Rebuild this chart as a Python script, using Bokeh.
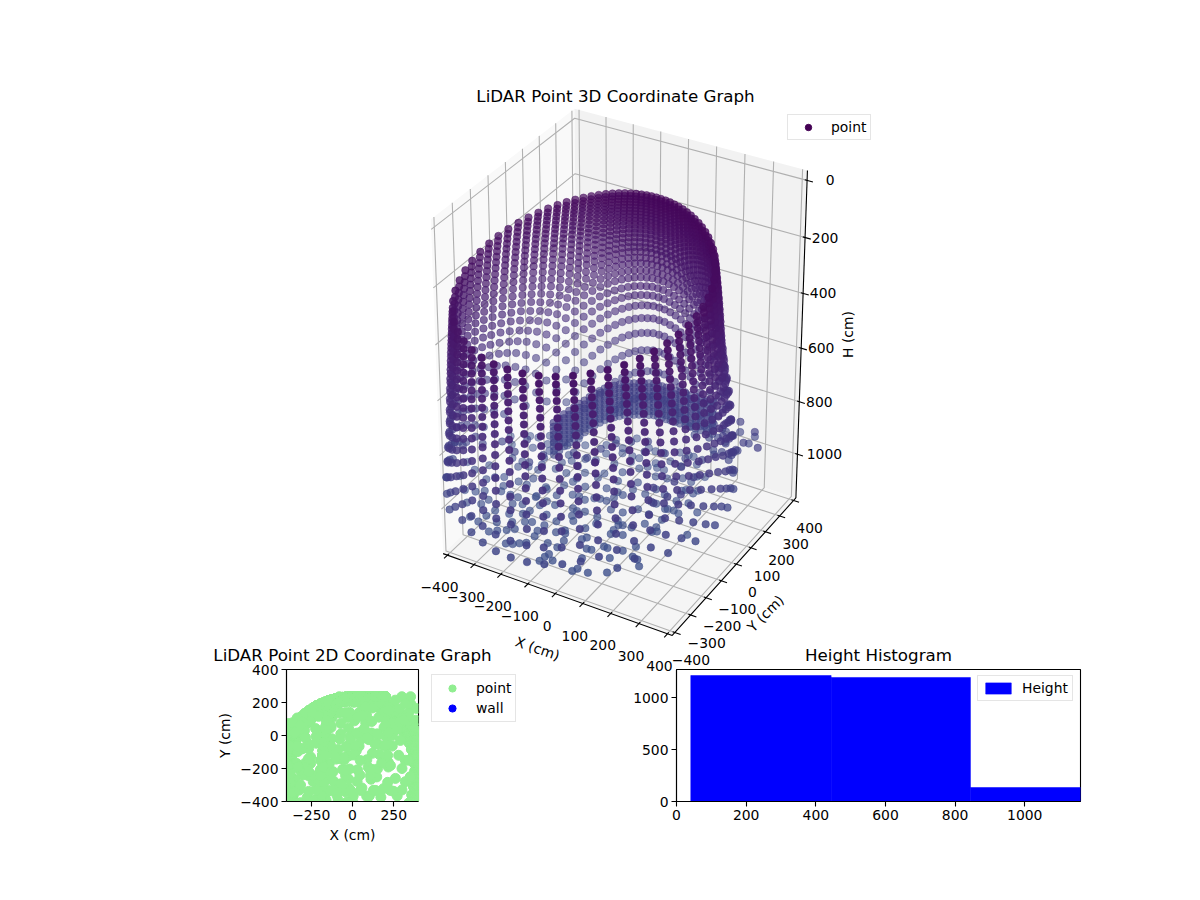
import numpy as np
from bokeh.plotting import figure
from bokeh.layouts import column, row
from bokeh.models import Range1d, Legend, LegendItem, ColumnDataSource, FixedTicker
from bokeh.core.properties import value
from bokeh.embed import file_html
from bokeh.resources import INLINE
from bokeh.palettes import Viridis256

# ---- readings ----
azimuth_deg = [0,5,10,15,20,25,30,35,40,45,50,55,60,65,70,75,80,85,90,95,100,105,110,115,120,125,130,135,140,145,150,155,160,165,170,175,
               180,185,190,195,200,205,210,215,220,225,230,235,240,245,250,255,260,265,270,275,280,285,290,295,300,305,310,315,320,325,330,335,340,345,350,355]
wall_range_cm = [401,382,364,347,331,317,304,292,282,272,264,257,251,246,242,239,237,235,235,235,237,239,242,246,251,257,264,272,282,292,304,317,331,347,364,382,
                 401,421,442,464,485,507,529,550,571,591,609,626,641,654,665,674,680,684,685,684,680,674,665,654,641,626,609,591,571,550,529,507,485,464,442,421]
elevation_deg = [18,20,22,24,26,28,30,32,34,36,38,40,42,44,46,48,50,52,54,56,58,60,62,64,66,68,70,72,74,76,78,80,82,84,86,88]
wall_flare_x = [.82,.825,.83,.835,.84,.845,.85,.855,.86,.865,.87,.875,.88,.885,.89,.90,.91,.92,.93,.95,.97,.98,.99,1,1,1,1,1,1,1,1,1,1,1,1,1]
wall_flare_y = [.95,.95,.95,.95,.95,.95,.95,.95,.95,.95,.95,.95,.95,.95,.95,.95,.96,.96,.97,.97,.98,.98,.99,1,1,1,1,1,1,1,1,1,1,1,1,1]
wall_center_y = -225
wall_bottom_cm = 900

floor_x = [106,114,152,202,271,249,99,172,-7,-4,0,27,4,4,-33,86,102,57,188,213,-144,-124,-108,-91,-87,-94,-21,28,45,112,147,121,217,217,213,241,221,163,120,87,
           -18,-60,-24,-114,-91,-153,-181,-203,-223,-280,-316,-275,-266,-228,-179,-160,-187,-218,-238,-209,-194,-159,-151,-118,-141,-99,-76,-51,-29,-12,
           11,23,40,53,99,116,154,191,229,235,203,155,-23,-87,-135,-186,-254,-254,-286,-270,-305,-352,-375,-409,-366,-323,-382,-364,-339,-465,-487,-443,-416,
           -331,-302,-266,-220,-178,-127,-71,-24,12,43,80,117,160,193,196,218,
           -445,-416,-373,-390,-362,-335,-291,-199,-166,-123,-92,-78,-17,9,36,79,82,114,132,-80,-19,-147,-135,-206,-244,-256,-303,-316,-347,-335,-271,-221,-166,-130,-71,-30,31,85,122,162,
           -77,-12,47,-149,137,47,30,-69,-40,-171,127,95,151,177,193,242,
           -285,-133,18,200,-194,-315,-42,109,-133,48,230,
           -224,-42,60,-133,200,290,320,-194,-315,-42,109,230,-12,140,-242]
floor_y = [-488,-470,-472,-442,-366,-338,-418,-374,-494,-468,-450,-473,-407,-368,-403,-368,-366,-318,-322,-284,-470,-462,-448,-435,-393,-364,-320,-278,-240,-265,-251,-206,-191,-163,-120,-64,-58,-115,-108,-147,
           -203,-206,-264,-277,-328,-343,-310,-426,-443,-415,-407,-376,-339,-389,-409,-392,-364,-332,-280,-267,-207,-244,-215,-219,-171,-143,-141,-148,-126,-119,
           -118,-92,-65,-23,-25,15,4,49,54,75,-8,-53,-59,-85,-81,-158,-130,-169,-167,-242,-241,-265,-283,-293,-347,-331,-208,-185,-169,-235,-157,-182,-137,
           -97,-80,-80,-47,-50,-19,9,44,89,142,77,85,111,107,143,153,
           39,0,-65,72,78,106,30,18,49,109,163,137,140,201,206,175,234,235,235,235,207,152,194,116,138,86,81,61,19,-65,-49,-7,3,48,73,109,111,122,167,202,
           -22,-6,19,-112,-52,-152,-208,-292,-342,-285,-332,-192,-203,-165,-64,0,
           -12,-60,-60,-60,-212,-212,-242,-242,-333,-333,-333,
           42,139,121,60,60,-30,-150,-150,-300,-212,-212,-182,-333,-333,-242]
floor_h_cm = 1000

mid_x = [-426,-458,-418,-377,-330,-267,-265,-195,-178,-101,-50,-38,-12,25,71,90,150,219,269,287,284,341,353,352,299,259]
mid_y = [-271,-268,-209,-231,-190,-141,-219,-245,-189,-130,-134,-69,-19,14,41,-14,10,18,37,82,161,138,191,235,235,214]
mid_h_cm = 850

side_x = [387,321,338,384,436,382,311,280,300,320,260,340,300,350]
side_y = [164,192,111,93,90,46,94,-120,-200,-280,-260,-150,-330,-250]
side_h_cm = 780

band_x = [-180,-178,-177,-173,-170,-165,-161,-157,-154,-147,-141,-131,-122,-111,-101,-87,-74,-60,-47,-32,-17,-2,13,29,45,62,80,100,119,138,156,178,199]
band_y = [-121,-92,-63,-37,-12,13,38,63,89,110,131,146,161,175,189,197,205,214,222,229,235,235,235,235,235,235,235,235,235,235,235,235,235]
band_h_cm = [770,785,800,815,830,845,860,875,890]

hist_edges = [41, 444, 844, 1245]
hist_counts = [1215, 1196, 135]

h_ticks = [0, 200, 400, 600, 800, 1000]
xy_ticks = [-400, -300, -200, -100, 0, 100, 200, 300, 400]

# ---- polar wall readings to x, y, h ----
az = np.radians(np.array(azimuth_deg, float))
dist = np.array(wall_range_cm, float)
tanphi = np.tan(np.radians(np.array(elevation_deg, float)))
D, T = np.meshgrid(dist, tanphi)
A, _ = np.meshgrid(az, tanphi)
Fx = np.array(wall_flare_x)[:, None]
Fy = np.array(wall_flare_y)[:, None]
wall_h = D * T
keep = wall_h <= wall_bottom_cm
wx = (Fx * D * np.cos(A))[keep]
wy = (wall_center_y + Fy * (D * np.sin(A) - wall_center_y))[keep]
wh = wall_h[keep]
bx = np.repeat(band_x, len(band_h_cm)).astype(float)
by = np.repeat(band_y, len(band_h_cm)).astype(float)
bh = np.tile(band_h_cm, len(band_x)).astype(float)
X = np.concatenate([wx, floor_x, mid_x, side_x, bx])
Y = np.concatenate([wy, floor_y, mid_y, side_y, by])
H = np.concatenate([wh, np.full(len(floor_x), float(floor_h_cm)), np.full(len(mid_x), float(mid_h_cm)),
                    np.full(len(side_x), float(side_h_cm)), bh])

# ---- 3D projection (elev 30, azim -60) ----
xlo, xhi = -416.67, 416.67
hbot, htop = 1170.0, -34.0
box = np.array([1, 1, 1.33]) / np.linalg.norm([1, 1, 1.33]) * 1.8294640721620434 * 25 / 24
el, azi = np.radians(30), np.radians(-60)
wv = np.array([np.cos(el) * np.cos(azi), np.cos(el) * np.sin(azi), np.sin(el)])
eye = box / 2 + 10 * wv
uv = np.cross([0, 0, 1.0], wv); uv /= np.linalg.norm(uv)
vv = np.cross(wv, uv)

def proj(x, y, h):
    x = np.asarray(x, float); y = np.asarray(y, float); h = np.asarray(h, float)
    P = np.stack([(x - xlo) / (xhi - xlo) * box[0],
                  (y - xlo) / (xhi - xlo) * box[1],
                  (h - hbot) / (htop - hbot) * box[2]], axis=-1) - eye
    zv = P @ wv
    return (P @ uv) / (-zv), (P @ vv) / (-zv), -zv

corners = [(xlo, xlo, hbot, 444, 552), (xhi, xlo, hbot, 670, 630), (xhi, xhi, hbot, 797, 503), (xlo, xhi, hbot, 575, 432),
           (xlo, xlo, htop, 432, 213), (xlo, xhi, htop, 572, 112), (xhi, xhi, htop, 808, 167)]
cx, cy, _ = proj([c[0] for c in corners], [c[1] for c in corners], [c[2] for c in corners])
sx, ox = np.polyfit(cx, [c[3] for c in corners], 1)
sy, oy = np.polyfit(cy, [c[4] for c in corners], 1)

FONT = value("DejaVu Sans")
TOP_H = 676
p = figure(width=1184, height=TOP_H, output_backend="svg", toolbar_location=None, min_border=0,
           x_range=Range1d((0 - ox) / sx, (1184 - ox) / sx),
           y_range=Range1d((TOP_H - oy) / sy, (0 - oy) / sy),
           background_fill_alpha=0, border_fill_alpha=0, outline_line_color=None)
p.axis.visible = False
p.grid.visible = False

def poly(pts, color):
    a = np.array(pts, float)
    u, v, _ = proj(a[:, 0], a[:, 1], a[:, 2])
    p.patch(u.tolist(), v.tolist(), fill_color=color, line_color=None)

poly([(xlo, xlo, hbot), (xlo, xhi, hbot), (xlo, xhi, htop), (xlo, xlo, htop)], "#f9f9f9")
poly([(xlo, xhi, hbot), (xhi, xhi, hbot), (xhi, xhi, htop), (xlo, xhi, htop)], "#f2f2f2")
poly([(xlo, xlo, hbot), (xhi, xlo, hbot), (xhi, xhi, hbot), (xlo, xhi, hbot)], "#f5f5f5")

def line3(pts, color="#b0b0b0", width=1.1):
    a = np.array(pts, float)
    u, v, _ = proj(a[:, 0], a[:, 1], a[:, 2])
    p.line(u.tolist(), v.tolist(), line_color=color, line_width=width)

for t in xy_ticks:
    line3([(t, xlo, hbot), (t, xhi, hbot), (t, xhi, htop)])
    line3([(xhi, t, hbot), (xlo, t, hbot), (xlo, t, htop)])
for t in h_ticks:
    line3([(xlo, xlo, t), (xlo, xhi, t), (xhi, xhi, t)])

line3([(xlo, xlo, hbot), (xhi, xlo, hbot), (xhi, xhi, hbot)], "#000000")
line3([(xhi, xhi, hbot), (xhi, xhi, htop)], "#000000")

def label(x3, y3, h3, text, dx, dy, align="center", angle=0.0, size="13.9px"):
    u, v, _ = proj(x3, y3, h3)
    p.text([float(u)], [float(v)], text=[text], x_offset=dx, y_offset=dy, text_align=align, text_baseline="middle",
           text_font=FONT, text_font_size=size, text_color="#000000", angle=angle)

def fmt(t):
    return str(t).replace("-", "\u2212")

for t in xy_ticks:
    line3([(t, xlo + 8, hbot), (t, xlo - 20, hbot)], "#000000")
    line3([(xhi - 8, t, hbot), (xhi + 20, t, hbot)], "#000000")
    label(t, xlo, hbot, fmt(t), -8, 32)
    label(xhi, t, hbot, fmt(t), 16, 28)
for t in h_ticks:
    line3([(xhi - 8, xhi, t), (xhi + 20, xhi, t)], "#000000")
    label(xhi, xhi, t, fmt(t), 27 if t == 1000 else (23 if t == 0 else 20), 0)

def page_text(px, py, text, angle=0.0, size="13.9px", align="center"):
    p.text([(px - ox) / sx], [(py - oy) / sy], text=[text], text_align=align, text_baseline="middle",
           text_font=FONT, text_font_size=size, angle=angle, text_color="#000000")

page_text(537, 648, "X (cm)", angle=np.radians(-19))
page_text(765, 613, "Y (cm)", angle=np.radians(45))
page_text(847, 334, "H (cm)", angle=np.radians(90))
page_text(615, 95, "LiDAR Point 3D Coordinate Graph", size="16.7px")

u, v, depth = proj(X, Y, H)
order = np.argsort(-depth)
near, far = depth.min(), depth.max()
alpha = 1 - (depth - near) / (far - near) * 0.5
tone = np.clip(H / 1245.0 * 0.30, 0, 1)
colors = [Viridis256[int(t * 255)] for t in tone]
src = ColumnDataSource(dict(u=u[order], v=v[order], c=[colors[i] for i in order], a=alpha[order]))
p.scatter("u", "v", source=src, size=7.5, fill_color="c", fill_alpha="a", line_color="c", line_alpha="a", line_width=0.6)

dummy = p.scatter([-999.0], [-999.0], size=7, color="#440154")
leg = Legend(items=[LegendItem(label="point", renderers=[dummy])], location=(787, TOP_H - 140),
             label_text_font_size="13.9px", label_text_font="DejaVu Sans", label_text_color="#000000", border_line_color="#cccccc",
             background_fill_alpha=0.8, padding=4, margin=0, spacing=0, glyph_width=32, glyph_height=16, label_standoff=7)
p.add_layout(leg)

def style_small(f):
    f.grid.visible = False
    f.outline_line_color = "#000000"
    f.outline_line_width = 1.1
    for ax in f.axis:
        ax.major_label_text_font = "DejaVu Sans"
        ax.major_label_text_font_size = "13.9px"
        ax.major_label_text_color = "#000000"
        ax.axis_label_text_font = "DejaVu Sans"
        ax.axis_label_text_font_size = "13.9px"
        ax.axis_label_text_font_style = "normal"
        ax.axis_label_text_color = "#000000"
        ax.major_tick_in = 0
        ax.major_tick_out = 5
        ax.minor_tick_line_color = None
        ax.major_tick_line_width = 1.1
        ax.major_tick_line_color = "#000000"
        ax.axis_line_width = 1.1
        ax.axis_line_color = "#000000"
        ax.major_label_standoff = 3
        ax.axis_label_standoff = 4
    f.title.text_font = "DejaVu Sans"
    f.title.text_font_size = "16.7px"
    f.title.text_font_style = "normal"
    f.title.text_color = "#000000"
    f.title.align = "center"

p2 = figure(width=330, height=221, frame_width=132, frame_height=132, output_backend="svg", toolbar_location=None,
            x_range=Range1d(-400, 400), y_range=Range1d(-400, 400), min_border_left=86, min_border_right=112,
            min_border_top=30, min_border_bottom=59, background_fill_alpha=0, border_fill_alpha=0,
            title="LiDAR Point 2D Coordinate Graph", margin=(0, 0, 0, 200),
            x_axis_label="X (cm)", y_axis_label="Y (cm)")
s_pt = p2.scatter(X.tolist(), Y.tolist(), size=10, color="#90ee90")
s_wall = p2.scatter([-9999.0], [-9999.0], size=10, color="#0000ff")
p2.xaxis.ticker = FixedTicker(ticks=[-250, 0, 250])
p2.yaxis.ticker = FixedTicker(ticks=[-400, -200, 0, 200, 400])
style_small(p2)
p2.add_layout(Legend(items=[LegendItem(label="point", renderers=[s_pt]), LegendItem(label="wall", renderers=[s_wall])],
                     location=(13, 79), label_text_font_size="13.9px", label_text_font="DejaVu Sans", label_text_color="#000000",
                     border_line_color="#cccccc", padding=4, margin=0, spacing=2, glyph_width=32, glyph_height=18, label_standoff=8), "right")

p3 = figure(width=480, height=221, frame_width=404, frame_height=132, output_backend="svg", toolbar_location=None,
            x_range=Range1d(0, 1160), y_range=Range1d(0, 1273), min_border_left=56, min_border_right=20,
            min_border_top=30, min_border_bottom=59, background_fill_alpha=0, border_fill_alpha=0,
            title="Height Histogram", margin=(0, 0, 0, -351))
q = p3.quad(left=hist_edges[:-1], right=hist_edges[1:], bottom=0, top=hist_counts, color="#0000ff", line_color="#0000ff", line_width=0.5)
p3.xaxis.ticker = FixedTicker(ticks=[0, 200, 400, 600, 800, 1000])
p3.yaxis.ticker = FixedTicker(ticks=[0, 500, 1000])
style_small(p3)
p3.add_layout(Legend(items=[LegendItem(label="Height", renderers=[q])], location=(301, 100),
                     label_text_font_size="13.9px", label_text_font="DejaVu Sans", label_text_color="#000000", border_line_color="#cccccc",
                     background_fill_alpha=0.8, padding=4, margin=0, spacing=0, glyph_width=32, glyph_height=14, label_standoff=8))

layout = column(p, row(p2, p3, margin=(-39, 0, 0, 0)))
open("out.html", "w").write(file_html(layout, INLINE))
